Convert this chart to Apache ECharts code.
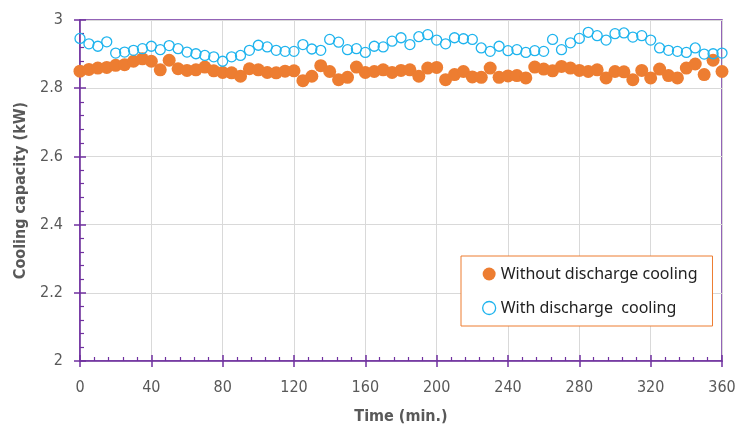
<!DOCTYPE html>
<html>
<head>
<meta charset="utf-8">
<script src="https://cdn.jsdelivr.net/npm/echarts@6/dist/echarts.min.js"></script>
<style>
  html, body { margin: 0; padding: 0; background: #fff; }
  #chart { width: 736px; height: 428px; }
</style>
</head>
<body>
<div id="chart"></div>
<script>
// time in minutes, one reading every 5 min
var times = [0, 5, 10, 15, 20, 25, 30, 35, 40, 45, 50, 55, 60, 65, 70, 75, 80, 85, 90, 95,
  100, 105, 110, 115, 120, 125, 130, 135, 140, 145, 150, 155, 160, 165, 170, 175, 180, 185, 190, 195,
  200, 205, 210, 215, 220, 225, 230, 235, 240, 245, 250, 255, 260, 265, 270, 275, 280, 285, 290, 295,
  300, 305, 310, 315, 320, 325, 330, 335, 340, 345, 350, 355, 360]

// cooling capacity (kW)
var withoutCooling = [2.850, 2.855, 2.859, 2.861, 2.867, 2.869, 2.879, 2.886, 2.879, 2.854,
  2.882, 2.857, 2.852, 2.854, 2.862, 2.851, 2.846, 2.845, 2.835, 2.857,
  2.854, 2.846, 2.845, 2.850, 2.851, 2.822, 2.835, 2.866, 2.849, 2.825,
  2.832, 2.862, 2.846, 2.849, 2.854, 2.846, 2.852, 2.854, 2.835, 2.859,
  2.861, 2.825, 2.840, 2.849, 2.833, 2.832, 2.859, 2.832, 2.836, 2.837,
  2.830, 2.862, 2.856, 2.851, 2.864, 2.859, 2.852, 2.849, 2.854, 2.830,
  2.849, 2.848, 2.825, 2.852, 2.830, 2.856, 2.837, 2.830, 2.859, 2.871,
  2.840, 2.882, 2.849]

var withCooling = [2.946, 2.930, 2.923, 2.936, 2.903, 2.906, 2.911, 2.916, 2.923, 2.913,
  2.925, 2.916, 2.906, 2.901, 2.896, 2.892, 2.879, 2.892, 2.896, 2.911,
  2.926, 2.921, 2.911, 2.908, 2.908, 2.928, 2.915, 2.911, 2.943, 2.935,
  2.913, 2.916, 2.905, 2.923, 2.921, 2.938, 2.948, 2.928, 2.951, 2.957,
  2.941, 2.930, 2.948, 2.945, 2.943, 2.918, 2.908, 2.923, 2.910, 2.913,
  2.905, 2.910, 2.908, 2.943, 2.913, 2.933, 2.946, 2.964, 2.954, 2.941,
  2.960, 2.962, 2.950, 2.954, 2.941, 2.918, 2.911, 2.908, 2.905, 2.918,
  2.900, 2.901, 2.903]

var seriesNames = ['Without discharge cooling', 'With discharge  cooling']

function pairs(xs, ys) {
  return xs.map(function (x, i) { return [x, ys[i]] })
}

var purple = '#7030A0'
var gray = '#595959'
var numFont = '"DejaVu Sans Condensed", sans-serif'

var chart = echarts.init(document.getElementById('chart'))

chart.setOption({
  animation: false,
  grid: {
    left: 80, right: 14, top: 20, bottom: 67,
    outerBoundsMode: 'none',
    show: true,
    borderColor: purple,
    borderWidth: 1.5
  },
  legend: {
    orient: 'vertical',
    left: 461, top: 256,
    padding: [10, 15, 10, 21],
    itemGap: 18,
    itemWidth: 13, itemHeight: 13,
    borderColor: '#ED7D31',
    borderWidth: 1,
    backgroundColor: '#fff',
    textStyle: { fontFamily: '"Noto Sans", sans-serif', fontSize: 16, color: '#222' },
    data: [
      { name: seriesNames[0], icon: 'circle' },
      { name: seriesNames[1], icon: 'circle', itemStyle: { color: '#fff', borderColor: '#1FB4EE', borderWidth: 1.3 } }
    ]
  },
  xAxis: [{
    type: 'value',
    min: 0, max: 360, interval: 40,
    name: 'Time (min.)',
    nameLocation: 'middle',
    nameGap: 48,
    nameTextStyle: { fontFamily: numFont, fontWeight: 'bold', fontSize: 16, color: gray },
    axisLine: { lineStyle: { color: purple, width: 1.5 } },
    axisTick: { inside: true, length: 6, lineStyle: { color: purple, width: 1.5 } },
    minorTick: { show: true, splitNumber: 5, length: 4, lineStyle: { color: purple, width: 1.2 } },
    axisLabel: { margin: 19, fontFamily: numFont, fontSize: 16, color: gray },
    splitLine: { show: true, lineStyle: { color: '#d9d9d9', width: 1 } }
  }, {
    // outward half of the crossing major ticks
    type: 'value',
    min: 0, max: 360, interval: 40,
    position: 'bottom',
    axisLine: { show: false },
    axisTick: { inside: false, length: 6, lineStyle: { color: purple, width: 1.5 } },
    axisLabel: { show: false },
    splitLine: { show: false }
  }],
  yAxis: [{
    type: 'value',
    min: 2, max: 3, interval: 0.2,
    name: 'Cooling capacity (kW)',
    nameLocation: 'middle',
    nameGap: 50,
    nameTextStyle: { fontFamily: numFont, fontWeight: 'bold', fontSize: 16, color: gray },
    axisLine: { show: true, lineStyle: { color: purple, width: 1.5 } },
    axisTick: { show: true, inside: true, length: 6, lineStyle: { color: purple, width: 1.5 } },
    minorTick: { show: true, splitNumber: 5, length: 4, lineStyle: { color: purple, width: 1.2 } },
    axisLabel: { margin: 17, fontFamily: numFont, fontSize: 16, color: gray },
    splitLine: { show: true, lineStyle: { color: '#d9d9d9', width: 1 } }
  }, {
    type: 'value',
    min: 2, max: 3, interval: 0.2,
    position: 'left',
    axisLine: { show: false },
    axisTick: { show: true, inside: false, length: 6, lineStyle: { color: purple, width: 1.5 } },
    axisLabel: { show: false },
    splitLine: { show: false }
  }],
  series: [{
    name: seriesNames[0],
    type: 'scatter',
    symbol: 'circle',
    symbolSize: 13,
    itemStyle: { color: '#ED7D31', opacity: 1 },
    data: pairs(times, withoutCooling)
  }, {
    name: seriesNames[1],
    type: 'scatter',
    symbol: 'circle',
    symbolSize: 10,
    itemStyle: { color: 'rgba(255,255,255,0)', borderColor: '#1FB4EE', borderWidth: 1.3, opacity: 1 },
    data: pairs(times, withCooling)
  }]
})
</script>
</body>
</html>
